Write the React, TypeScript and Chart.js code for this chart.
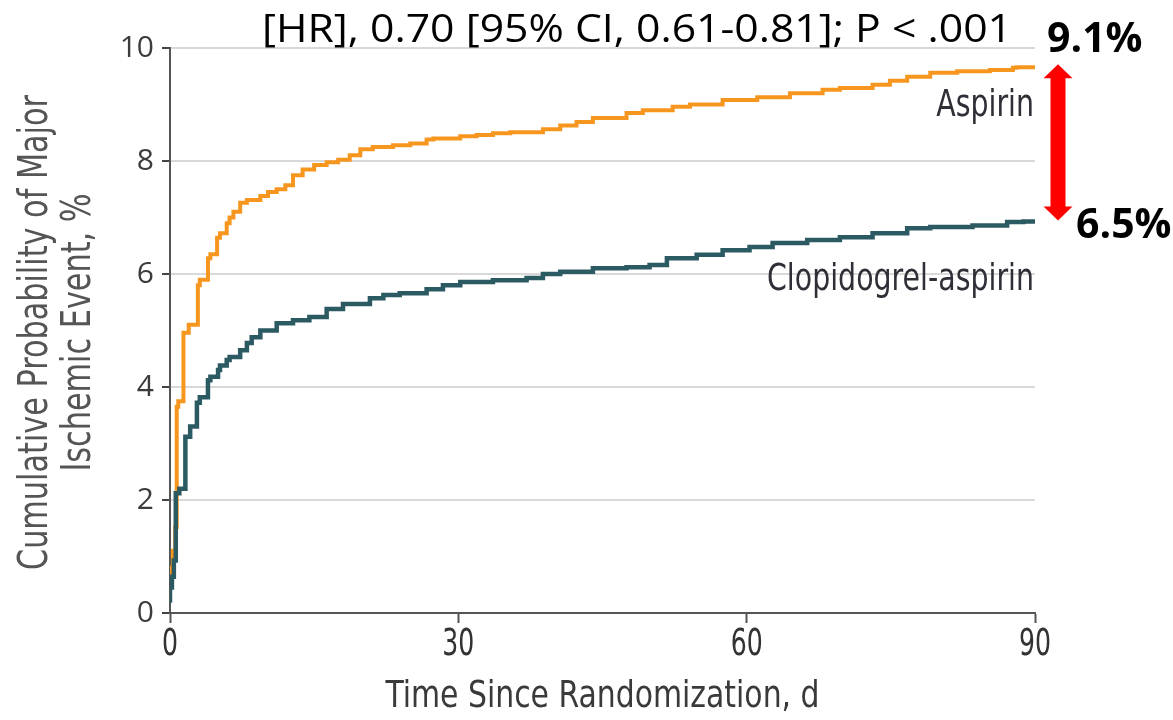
import { useEffect, useRef } from 'react';
import { Chart, registerables } from 'chart.js';

Chart.register(...registerables);

// Kaplan-Meier style cumulative event curves (days since randomization, % with event)
const aspirinDays = [
  0, 0.3, 0.55, 0.7, 0.86, 1.4, 1.95, 2.9, 3.1, 3.95, 4.2, 4.9, 5.2, 5.9, 6.2, 6.6, 7.3, 8.0,
  9.4, 10.2, 11.1, 12.0, 12.8, 13.8, 15.0, 16.3, 17.5, 18.7, 19.8, 21.1, 23.2, 25.0, 26.7, 27.4,
  30.2, 31.9, 33.6, 35.4, 38.8, 40.6, 42.3, 44.0, 47.5, 49.2, 52.3, 54.1, 57.5, 61.1, 64.5,
  67.9, 69.7, 73.1, 74.9, 76.7, 79.1, 81.9, 85.3, 87.7, 88.1, 90,
];
const aspirinPct = [
  0.5, 0.8, 1.1, 1.52, 3.65, 3.75, 4.96, 5.1, 5.8, 5.9, 6.28, 6.35, 6.64, 6.72, 6.9, 7.0, 7.1,
  7.26, 7.31, 7.38, 7.45, 7.5, 7.57, 7.75, 7.85, 7.93, 7.98, 8.02, 8.1, 8.21, 8.25, 8.28, 8.31,
  8.38, 8.4, 8.44, 8.46, 8.49, 8.51, 8.56, 8.63, 8.69, 8.76, 8.85, 8.9, 8.96, 9.0, 9.08, 9.13,
  9.2, 9.26, 9.29, 9.35, 9.42, 9.49, 9.56, 9.59, 9.61, 9.65, 9.66,
];

const dualDays = [
  0, 0.2, 0.4, 0.6, 0.97, 1.6, 2.1, 2.8, 3.1, 3.95, 4.2, 5.0, 5.2, 5.9, 6.2, 7.3, 8.0, 8.5, 9.4,
  11.1, 12.8, 14.5, 16.3, 18.0, 20.8, 22.2, 23.9, 26.7, 28.4, 30.2, 33.6, 37.1, 38.8, 40.6,
  44.0, 47.5, 49.9, 51.7, 54.8, 57.5, 60.3, 62.7, 66.3, 69.7, 73.1, 76.7, 79.1, 83.5, 87.1,
  88.8, 90,
];
const dualPct = [
  0.18, 0.45, 0.64, 0.93, 2.12, 2.2, 3.12, 3.3, 3.72, 3.82, 4.12, 4.18, 4.3, 4.38, 4.48, 4.53,
  4.65, 4.78, 4.88, 5.0, 5.13, 5.18, 5.24, 5.38, 5.47, 5.57, 5.63, 5.66, 5.73, 5.8, 5.86, 5.89,
  5.93, 6.0, 6.04, 6.1, 6.12, 6.16, 6.28, 6.34, 6.42, 6.48, 6.55, 6.6, 6.65, 6.72, 6.81, 6.83,
  6.86, 6.92, 6.93,
];

const seriesNames = ['Aspirin', 'Clopidogrel-aspirin'];
const xTickValues = [0, 30, 60, 90];
const yTickValues = [0, 2, 4, 6, 8, 10];
const xTitle = 'Time Since Randomization, d';
const yTitle = ['Cumulative Probability of Major', 'Ischemic Event, %'];
const hrText = '[HR], 0.70 [95% CI, 0.61-0.81]; P < .001';
const aspirinRate = '9.1%';
const dualRate = '6.5%';

const CONDENSED = "'DejaVu Sans Condensed', 'Liberation Sans Narrow', sans-serif";
const ORANGE = '#f7961f';
const TEAL = '#2c5a62';

const toPoints = (xs: number[], ys: number[]) => xs.map((x, i) => ({ x, y: ys[i] }));

// draws text squeezed horizontally by sx, anchored at (x, y)
function squeezed(ctx: CanvasRenderingContext2D, text: string, x: number, y: number, sx: number, align: 'left' | 'right' | 'center') {
  const w = ctx.measureText(text).width * sx;
  const start = align === 'left' ? x : align === 'right' ? x - w : x - w / 2;
  ctx.save();
  ctx.translate(start, y);
  ctx.scale(sx, 1);
  ctx.textAlign = 'left';
  ctx.fillText(text, 0, 0);
  ctx.restore();
}

// Axis titles, x tick labels, header statistic, curve labels, rates and the difference arrow
const annotationPlugin = {
  id: 'curveAnnotations',
  afterDraw(chart: any) {
    const { ctx, chartArea, scales } = chart;
    const ys = scales.y;
    const xs = scales.x;
    ctx.save();
    ctx.textBaseline = 'alphabetic';

    // x tick labels at the axis tick positions
    ctx.fillStyle = '#333';
    ctx.font = `37px ${CONDENSED}`;
    const tickSx = 32 / ctx.measureText('30').width;
    xs.ticks.forEach((t: any) => {
      squeezed(ctx, String(t.value), xs.getPixelForValue(t.value), 655, tickSx, 'center');
    });

    // x axis title
    ctx.fillStyle = '#3a3a3a';
    ctx.font = `38px ${CONDENSED}`;
    const xtSx = 434 / ctx.measureText(xTitle).width;
    squeezed(ctx, xTitle, (chartArea.left + chartArea.right) / 2, 707, xtSx, 'center');

    // y axis title, two rotated lines
    ctx.fillStyle = '#555';
    ctx.font = `40px ${CONDENSED}`;
    const ytSx = 475 / ctx.measureText(yTitle[0]).width;
    const midY = (chartArea.top + chartArea.bottom) / 2 + 2;
    [47, 90].forEach((bx, i) => {
      ctx.save();
      ctx.translate(bx, midY);
      ctx.rotate(-Math.PI / 2);
      squeezed(ctx, yTitle[i], 0, 0, ytSx, 'center');
      ctx.restore();
    });

    // hazard ratio line across the top
    ctx.fillStyle = '#000';
    ctx.font = "38px 'Open Sans', sans-serif";
    const hrSx = 750 / ctx.measureText(hrText).width;
    squeezed(ctx, hrText, 262, 42, hrSx, 'left');

    // curve names
    ctx.fillStyle = '#2f2f38';
    ctx.font = `38px ${CONDENSED}`;
    const lblSx = 267 / ctx.measureText(seriesNames[1]).width;
    squeezed(ctx, seriesNames[0], chartArea.right - 1, 116, lblSx, 'right');
    squeezed(ctx, seriesNames[1], chartArea.right - 1, 290, lblSx, 'right');

    // arrow spanning the two end values
    const ax = chartArea.right + 23;
    const yTop = ys.getPixelForValue(aspirinPct[aspirinPct.length - 1]) - 3;
    const yBot = ys.getPixelForValue(dualPct[dualPct.length - 1]) - 1;
    const head = 14;
    const hw = 14.5;
    const sw = 7.5;
    ctx.fillStyle = '#ff0000';
    ctx.beginPath();
    ctx.moveTo(ax, yTop);
    ctx.lineTo(ax + hw, yTop + head);
    ctx.lineTo(ax + sw, yTop + head);
    ctx.lineTo(ax + sw, yBot - head);
    ctx.lineTo(ax + hw, yBot - head);
    ctx.lineTo(ax, yBot);
    ctx.lineTo(ax - hw, yBot - head);
    ctx.lineTo(ax - sw, yBot - head);
    ctx.lineTo(ax - sw, yTop + head);
    ctx.lineTo(ax - hw, yTop + head);
    ctx.closePath();
    ctx.fill();

    // reported rates
    ctx.fillStyle = '#000';
    ctx.textAlign = 'left';
    ctx.font = "bold 41px 'Open Sans', sans-serif";
    ctx.fillText(aspirinRate, 1047, 52);
    ctx.fillText(dualRate, 1076, 238);

    ctx.restore();
  },
};

export default function App() {
  const canvasRef = useRef<HTMLCanvasElement | null>(null);

  useEffect(() => {
    if (!canvasRef.current) return;
    const chart = new Chart(canvasRef.current, {
      type: 'line',
      data: {
        datasets: [
          {
            label: seriesNames[1],
            data: toPoints(dualDays, dualPct),
            borderColor: TEAL,
            borderWidth: 4.5,
            stepped: 'after',
            pointRadius: 0,
            fill: false,
          },
          {
            label: seriesNames[0],
            data: toPoints(aspirinDays, aspirinPct),
            borderColor: ORANGE,
            borderWidth: 4,
            stepped: 'after',
            pointRadius: 0,
            fill: false,
          },
        ],
      },
      options: {
        animation: false,
        responsive: true,
        maintainAspectRatio: false,
        layout: { padding: { top: 48, right: 138, left: 0, bottom: 0 } },
        plugins: {
          legend: { display: false },
          tooltip: { enabled: false },
        },
        scales: {
          x: {
            type: 'linear',
            min: 0,
            max: 90,
            afterBuildTicks: (scale: any) => {
              scale.ticks = xTickValues.map((value) => ({ value }));
            },
            afterFit: (scale: any) => {
              scale.height = 107;
            },
            grid: {
              drawOnChartArea: false,
              drawTicks: true,
              tickLength: 10,
              tickColor: '#555',
              tickWidth: 2,
            },
            border: { display: true, color: '#555', width: 2 },
            ticks: { display: false },
          },
          y: {
            min: 0,
            max: 10,
            afterBuildTicks: (scale: any) => {
              scale.ticks = yTickValues.map((value) => ({ value }));
            },
            afterFit: (scale: any) => {
              scale.width = 170;
            },
            grid: {
              color: '#d9d9d9',
              lineWidth: 2,
              drawTicks: true,
              tickLength: 8,
              tickColor: '#444',
              tickWidth: 2,
            },
            border: { display: true, color: '#555', width: 2 },
            ticks: {
              color: '#3c3c3c',
              padding: 8,
              font: { family: "'Open Sans', sans-serif", size: 30 },
            },
          },
        },
      },
      plugins: [annotationPlugin],
    });
    return () => chart.destroy();
  }, []);

  return (
    <div
      style={{
        position: 'fixed',
        left: 0,
        top: 0,
        width: 1173,
        height: 720,
        background: '#fff',
      }}
    >
      <canvas ref={canvasRef} />
    </div>
  );
}
